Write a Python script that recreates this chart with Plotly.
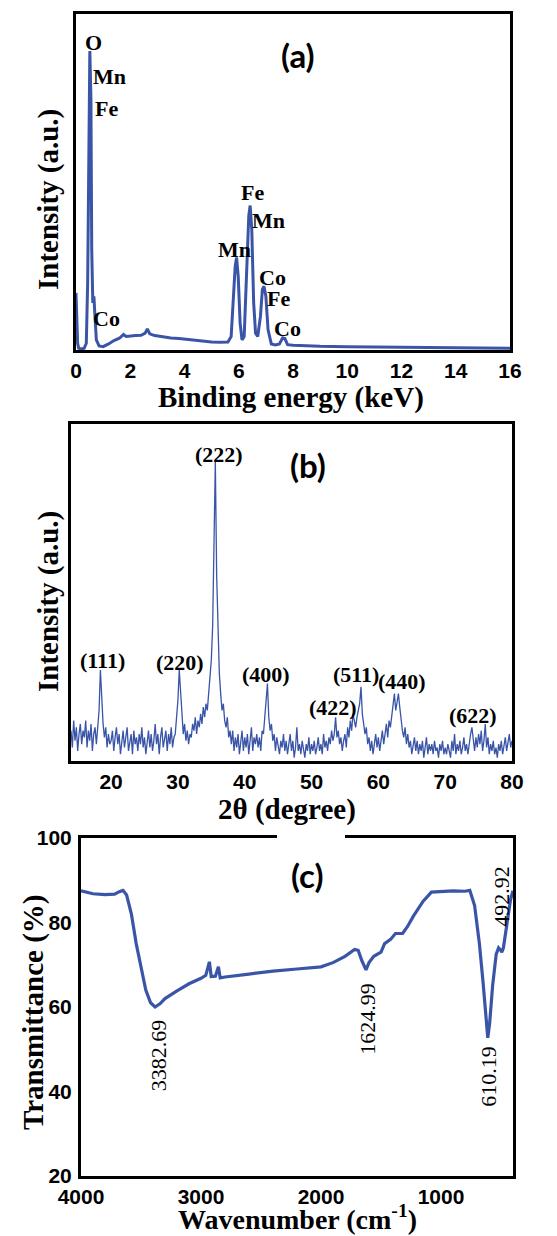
import plotly.graph_objects as go

# ---------------- (a) EDS spectrum ----------------
eds_energy = [0.00, 0.03, 0.06, 0.10, 0.20, 0.30, 0.38, 0.43, 0.47, 0.51, 0.55, 0.58,
              0.62, 0.66, 0.70, 0.75, 0.85, 1.00, 1.20, 1.40, 1.60, 1.75, 1.85, 2.00,
              2.20, 2.40, 2.55, 2.63, 2.72, 2.90, 3.20, 3.50, 3.80, 4.10, 4.40, 4.70,
              5.00, 5.30, 5.60, 5.72, 5.80, 5.87, 5.92, 5.98, 6.05, 6.12, 6.20, 6.30,
              6.37, 6.42, 6.48, 6.55, 6.62, 6.70, 6.80, 6.87, 6.93, 7.00, 7.08, 7.20,
              7.35, 7.50, 7.62, 7.70, 7.80, 8.00, 8.50, 9.00, 10.0, 11.0, 12.0, 13.0,
              14.0, 15.0, 16.0]
eds_counts = [17, 10, 2, 0.5, 0.3, 0.5, 2, 20, 70, 89, 75, 30,
              14, 16, 10, 3, 1.2, 1.0, 1.8, 2.8, 3.5, 4.6, 4.0, 4.2,
              4.3, 4.4, 5.0, 6.3, 4.8, 4.3, 3.9, 3.6, 3.4, 3.1, 2.9, 2.7,
              2.4, 2.3, 2.4, 4, 14, 25, 27.5, 22, 8, 3, 4, 25,
              40, 43, 36, 14, 5, 4, 10, 18, 19, 16, 6, 1.8,
              1.5, 1.8, 3.6, 3.4, 1.6, 1.4, 1.2, 1.1, 1.0, 0.9, 0.8, 0.7,
              0.6, 0.5, 0.5]
eds_labels = ["O", "Mn", "Fe", "Co", "Fe", "Mn", "Mn", "Co", "Fe", "Co"]
eds_label_x = [0.66, 1.22, 1.14, 1.14, 6.49, 7.08, 5.86, 7.23, 7.45, 7.78]
eds_label_y = [91.4, 81.3, 72, 9.5, 47, 38.4, 30, 21.7, 15.2, 6.5]

# ---------------- (b) XRD pattern ----------------
xrd_start, xrd_step = 14.0, 0.2
xrd_intensity = [
    9, 4, 12, 6, 10, 3, 8, 11, 5, 9,          # 14.0-15.8
    7, 12, 4, 9, 6, 11, 3, 8, 10, 5,          # 16.0-17.8
    10, 15, 27, 17, 11, 7, 10, 4, 8, 5,       # 18.0-19.8
    6, 9, 3, 7, 10, 5, 8, 2, 6, 9,            # 20.0-21.8
    4, 7, 10, 3, 6, 8, 2, 9, 5, 7,            # 22.0-23.8
    3, 8, 5, 10, 4, 7, 2, 6, 9, 4,            # 24.0-25.8
    8, 3, 6, 11, 5, 8, 2, 7, 10, 4,           # 26.0-27.8
    6, 9, 3, 8, 5, 10, 4, 7, 8, 12,           # 28.0-29.8
    18, 27, 21, 12, 8, 11, 6, 9, 5, 8,        # 30.0-31.8
    7, 11, 9, 13, 8, 12, 10, 14, 11, 16,      # 32.0-33.8
    13, 17, 15, 20, 24, 30, 40, 62, 89, 55,   # 34.0-35.8
    35, 26, 20, 15, 17, 12, 10, 13, 7, 9,     # 36.0-37.8
    5, 9, 3, 7, 4, 8, 2, 6, 9, 3,             # 38.0-39.8
    7, 4, 8, 2, 6, 10, 3, 7, 5, 8,            # 40.0-41.8
    4, 7, 3, 9, 8, 13, 16, 23, 13, 9,         # 42.0-43.8
    11, 6, 8, 3, 7, 5, 2, 6, 4, 8,            # 44.0-45.8
    3, 6, 2, 5, 8, 3, 6, 1, 4, 10,            # 46.0-47.8
    3, 5, 2, 6, 4, 1, 5, 3, 7, 2,             # 48.0-49.8
    5, 3, 6, 2, 4, 7, 3, 5, 2, 8,             # 50.0-51.8
    4, 6, 3, 7, 5, 9, 6, 8, 13, 7,            # 52.0-53.8
    9, 5, 7, 3, 6, 8, 4, 10, 7, 12,           # 54.0-55.8
    9, 14, 12, 10, 13, 15, 17, 22, 14, 11,    # 56.0-57.8
    8, 10, 5, 7, 3, 6, 2, 5, 8, 4,            # 58.0-59.8
    7, 3, 6, 9, 5, 8, 11, 7, 12, 10,          # 60.0-61.8
    14, 16, 20, 15, 18, 20, 16, 12, 9, 7,     # 62.0-63.8
    10, 5, 8, 4, 6, 2, 5, 7, 3, 6,            # 64.0-65.8
    2, 5, 3, 6, 1, 4, 7, 2, 5, 3,             # 66.0-67.8
    5, 2, 6, 3, 4, 1, 5, 3, 6, 2,             # 68.0-69.8
    4, 2, 5, 3, 1, 6, 3, 8, 2, 5,             # 70.0-71.8
    3, 6, 2, 4, 7, 3, 5, 2, 6, 8,             # 72.0-73.8
    10, 6, 3, 7, 4, 8, 5, 9, 3, 6,            # 74.0-75.8
    11, 4, 7, 2, 5, 3, 6, 2, 4, 1,            # 76.0-77.8
    5, 3, 6, 2, 4, 7, 3, 5, 8, 4,             # 78.0-79.8
    6,                                        # 80.0
]
xrd_angle = [round(xrd_start + xrd_step * i, 2) for i in range(len(xrd_intensity))]
hkl_labels = ["(111)", "(220)", "(222)", "(400)", "(422)", "(511)", "(440)", "(622)"]
hkl_x = [18.65, 30.35, 36.1, 43.2, 53.15, 56.65, 63.6, 74.1]
hkl_y = [29.8, 29.2, 90.8, 25.8, 15.9, 25.8, 23.5, 13.6]

# ---------------- (c) FTIR spectrum ----------------
ftir_wavenumber = [4000, 3900, 3800, 3720, 3680, 3650, 3620, 3580, 3540, 3500, 3460,
                   3420, 3382.69, 3340, 3300, 3200, 3100, 3000, 2960, 2930, 2915,
                   2880, 2855, 2840, 2800, 2600, 2400, 2200, 2000, 1900, 1800, 1720,
                   1690, 1660, 1624.99, 1600, 1560, 1500, 1470, 1420, 1380, 1320,
                   1280, 1230, 1150, 1080, 1000, 900, 800, 760, 720, 680, 650, 620,
                   610.19, 595, 570, 540, 520, 505, 492.92, 480, 460, 440, 420, 400]
ftir_transmittance = [87.5, 86.8, 86.6, 86.7, 87.3, 87.6, 86.5, 82, 75, 69, 64,
                      61, 60, 60.8, 62, 63.8, 65.5, 66.8, 67.5, 70.7, 67.2,
                      67.3, 69.5, 66.9, 67.1, 67.8, 68.5, 69, 69.5, 70.5, 72, 73.6,
                      73.4, 71, 68.8, 70.5, 72, 73, 75, 76, 77.4, 77.4,
                      79, 81.5, 85, 87.2, 87.4, 87.5, 87.4, 87.6, 84, 75, 66, 56,
                      52.7, 56, 65, 72.5, 74, 73.5, 73, 74, 78, 82, 85.5, 87.5]
band_labels = ["3382.69", "1624.99", "610.19", "492.92"]
band_label_y = [48.6, 57.2, 43.7, 86.3]
band_label_shift = [3, 2, 1, 0]
ftir_y_ticks = [20, 40, 60, 80, 100]
ftir_x_ticks = [4000, 3000, 2000, 1000]

# ---------------- styling ----------------
W, H = 557, 1236
BLUE = "#3a55a8"
SERIF = "Liberation Serif"
SANS = "Liberation Sans"
TICKFONT = dict(family=SANS, size=21, color="black", weight="bold")


def px_x(p):
    return p / W


def px_y(p):
    return 1 - p / H


def frame(**kw):
    base = dict(showline=True, linecolor="black", linewidth=3, mirror=True,
                showgrid=False, zeroline=False, ticks="", tickfont=TICKFONT,
                ticklabelstandoff=0)
    base.update(kw)
    return base


fig = go.Figure()
fig.add_trace(go.Scatter(x=eds_energy, y=eds_counts, mode="lines",
                         line=dict(color=BLUE, width=3), xaxis="x", yaxis="y"))
fig.add_trace(go.Scatter(x=xrd_angle, y=xrd_intensity, mode="lines",
                         line=dict(color=BLUE, width=1.3), xaxis="x2", yaxis="y2"))
fig.add_trace(go.Scatter(x=ftir_wavenumber, y=ftir_transmittance, mode="lines",
                         line=dict(color=BLUE, width=3.2), xaxis="x3", yaxis="y3"))

annotations = []


def text(x, y, s, size, family=SERIF, weight="bold", xref="paper", yref="paper",
         angle=0, xshift=0):
    annotations.append(dict(x=x, y=y, xref=xref, yref=yref, text=s, showarrow=False,
                            textangle=angle, xanchor="center", yanchor="middle",
                            xshift=xshift,
                            font=dict(family=family, size=size, color="black",
                                      weight=weight)))


# panel (a)
for s, x, y in zip(eds_labels, eds_label_x, eds_label_y):
    text(x, y, s, 22, xref="x", yref="y")
text(px_x(298), px_y(55), "(a)", 33, family="Lato")
text(px_x(291), px_y(397), "Binding energy (keV)", 29)
text(px_x(49), px_y(200), "Intensity (a.u.)", 29, angle=-90)

# panel (b)
for s, x, y in zip(hkl_labels, hkl_x, hkl_y):
    text(x, y, s, 22, xref="x2", yref="y2")
text(px_x(308), px_y(465), "(b)", 33, family="Lato")
text(px_x(287), px_y(809), "2θ (degree)", 29)
text(px_x(49), px_y(602), "Intensity (a.u.)", 29, angle=-90)

# panel (c)
for s, y, sh in zip(band_labels, band_label_y, band_label_shift):
    text(float(s), y, s, 22, weight="normal", xref="x3", yref="y3", angle=-90, xshift=sh)
text(px_x(307), px_y(875), "(c)", 33, family="Lato")
text(px_x(297), px_y(1217), "Wavenumber (cm<sup>-1</sup>)", 28)
text(px_x(33), px_y(1013), "Transmittance (%)", 29, angle=-90)

fig.update_layout(
    width=W, height=H,
    margin=dict(l=0, r=0, t=0, b=0, autoexpand=False),
    paper_bgcolor="white", plot_bgcolor="white",
    showlegend=False,
    xaxis=frame(domain=[px_x(76), px_x(510)], range=[0, 16], tickmode="linear",
                tick0=0, dtick=2, anchor="y"),
    yaxis=frame(domain=[px_y(350), px_y(14)], range=[0, 100], showticklabels=False,
                anchor="x"),
    xaxis2=frame(domain=[px_x(71), px_x(512)], range=[14, 80],
                 tickvals=[20, 30, 40, 50, 60, 70, 80], anchor="y2"),
    yaxis2=frame(domain=[px_y(761), px_y(424)], range=[0, 100], showticklabels=False,
                 anchor="x2"),
    xaxis3=frame(domain=[px_x(81), px_x(513)], range=[4000, 400],
                 tickvals=ftir_x_ticks, anchor="y3"),
    yaxis3=frame(domain=[px_y(1176), px_y(838)], range=[20, 100],
                 tickvals=ftir_y_ticks, anchor="x3", ticklabelstandoff=2),
    annotations=annotations,
    shapes=[dict(type="rect", xref="paper", yref="paper", layer="above",
                 x0=px_x(277), x1=px_x(345), y0=px_y(841), y1=px_y(835),
                 fillcolor="white", line=dict(width=0))],
)

fig.write_html("out.html")
